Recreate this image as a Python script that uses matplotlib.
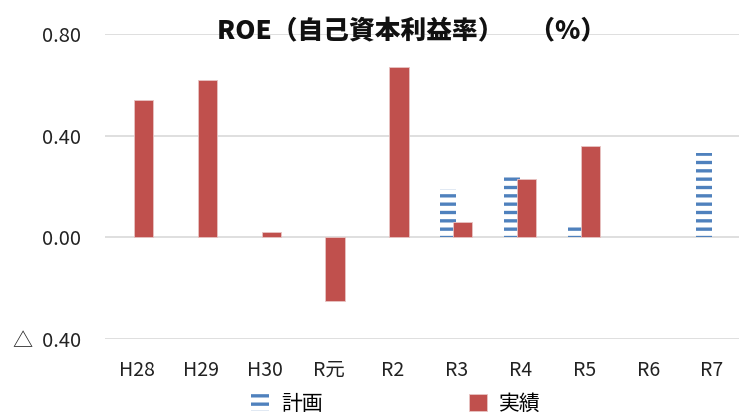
import matplotlib
matplotlib.use("Agg")
import matplotlib.pyplot as plt
import numpy as np

plt.rcParams['font.family'] = ['Noto Sans CJK JP', 'DejaVu Sans']
plt.rcParams['hatch.linewidth'] = 2.4

categories = ["H28", "H29", "H30", "R元", "R2", "R3", "R4", "R5", "R6", "R7"]
plan = [np.nan, np.nan, np.nan, np.nan, np.nan, 0.19, 0.24, 0.05, np.nan, 0.33]
actual = [0.54, 0.62, 0.02, -0.25, 0.67, 0.06, 0.23, 0.36, np.nan, np.nan]
yticks = [-0.40, 0.00, 0.40, 0.80]
yticklabels = ["△  0.40", "0.00", "0.40", "0.80"]
title = "ROE（自己資本利益率）　（%）"

fig = plt.figure(figsize=(7.39, 4.18), dpi=100)
ax = fig.add_axes([105/739, 1 - 339/418, 634/739, (339 - 34)/418])

x = np.arange(len(categories))
blue = "#4F81BD"
red = "#C0504D"

ax.bar(x - 0.125, plan, width=0.25, color="white", edgecolor=blue,
       linewidth=0, hatch="--", label="計画", zorder=2)
ax.bar(x + 0.10, actual, width=0.30, color=red, edgecolor="#E8C4C3",
       linewidth=0.6, label="実績", zorder=3)

ax.set_xlim(-0.5, -0.5 + 634/63.9)
ax.set_ylim(-0.40, 0.80)
ax.set_yticks(yticks)
ax.set_yticklabels(yticklabels, fontsize=14.5, color="#222222")
ax.set_xticks(x)
ax.set_xticklabels(categories, fontsize=14, color="#222222")
ax.tick_params(axis='both', length=0)
ax.tick_params(axis='x', pad=15)
ax.tick_params(axis='y', pad=17)
for lab in ax.get_yticklabels():
    lab.set_horizontalalignment('right')
for s in ax.spines.values():
    s.set_visible(False)
ax.grid(axis='y', color="#D9D9D9", linewidth=1.2, zorder=0)
ax.set_axisbelow(True)

fig.text(412/739, 1 - 31/418, title, fontsize=18.5, fontweight='heavy',
         ha='center', va='center', color="#111111")

leg = fig.legend(loc='center', bbox_to_anchor=(396/739, 1 - 404/418), ncol=2,
                 frameon=False, fontsize=15, columnspacing=7.0,
                 handlelength=0.85, handleheight=0.85, handletextpad=0.6)

fig.savefig("out.png", dpi=100)
